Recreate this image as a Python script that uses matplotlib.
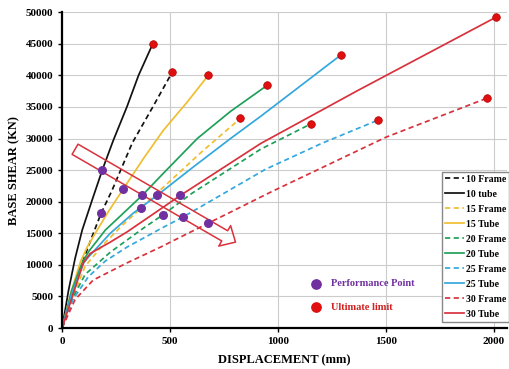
import matplotlib.pyplot as plt
import numpy as np

# pushover curves (displacement mm, base shear kN)
f10_x = [0, 45, 90, 139, 181, 230, 325, 420, 510]
f10_y = [0, 5000, 10000, 14500, 18200, 21700, 29300, 35000, 40500]
t10_x = [0, 30, 60, 93, 139, 186, 237, 300, 354, 420]
t10_y = [0, 6000, 11000, 15500, 20250, 25000, 29700, 35000, 40000, 45000]
f15_x = [0, 50, 107, 190, 280, 366, 469, 650, 826]
f15_y = [0, 5000, 9800, 13200, 16300, 19000, 22300, 28000, 33200]
t15_x = [0, 40, 85, 116, 150, 210, 283, 380, 469, 580, 677]
t15_y = [0, 5500, 10500, 12800, 14800, 18200, 22000, 27000, 31300, 35800, 40000]
f20_x = [0, 45, 107, 223, 376, 466, 600, 919, 1151]
f20_y = [0, 4500, 8500, 12000, 15800, 17900, 21300, 28300, 32300]
t20_x = [0, 45, 95, 125, 200, 278, 371, 469, 626, 780, 951]
t20_y = [0, 6000, 10500, 12200, 15500, 18000, 21000, 24500, 30000, 34300, 38450]
f25_x = [0, 50, 121, 200, 300, 455, 561, 940, 1200, 1462]
f25_y = [0, 4500, 8100, 10600, 12800, 15700, 17600, 25100, 29200, 32900]
t25_x = [0, 45, 100, 121, 223, 330, 440, 600, 780, 919, 1072, 1290]
t25_y = [0, 5500, 10300, 11200, 15000, 18200, 21000, 25300, 30000, 33500, 37500, 43200]
f30_x = [0, 60, 144, 300, 455, 677, 965, 1499, 1968]
f30_y = [0, 4500, 7600, 10300, 12800, 16600, 21500, 30200, 36400]
t30_x = [0, 98, 130, 223, 300, 420, 548, 919, 1369, 2009]
t30_y = [0, 10300, 11800, 13600, 15200, 18000, 21000, 29200, 37600, 49200]

perf_x = [181, 186, 283, 366, 371, 440, 466, 548, 561, 677]
perf_y = [18200, 25000, 22000, 19000, 21000, 21000, 17900, 21100, 17600, 16700]
ult_x = [510, 420, 826, 677, 1151, 951, 1462, 1290, 1968, 2009]
ult_y = [40500, 45000, 33200, 40000, 32300, 38450, 32900, 43200, 36400, 49200]

labels = ['10 Frame', '10 tube', '15 Frame', '15 Tube', '20 Frame', '20 Tube',
          '25 Frame', '25 Tube', '30 Frame', '30 Tube']
curves = [(f10_x, f10_y), (t10_x, t10_y), (f15_x, f15_y), (t15_x, t15_y),
          (f20_x, f20_y), (t20_x, t20_y), (f25_x, f25_y), (t25_x, t25_y),
          (f30_x, f30_y), (t30_x, t30_y)]
colors = ['#111111', '#111111', '#F0BE30', '#F0BE30', '#1FA05A', '#1FA05A',
          '#33A8DC', '#33A8DC', '#D8323C', '#D8323C']

plt.rcParams['font.family'] = ['Liberation Serif', 'DejaVu Serif']
plt.rcParams['font.weight'] = 'bold'

fig = plt.figure(figsize=(5.09, 3.69), dpi=100)
ax = fig.add_axes([0.122, 0.111, 0.874, 0.856])

for i, (cx, cy) in enumerate(curves):
    if i % 2 == 0:
        ax.plot(cx, cy, color=colors[i], lw=1.25, dashes=(3, 2), label=labels[i])
    else:
        ax.plot(cx, cy, color=colors[i], lw=1.25, label=labels[i])

ax.scatter(perf_x, perf_y, s=30, color='#7030A0', zorder=5)
ax.scatter(ult_x, ult_y, s=30, color='#E01010', edgecolor='#B00000', lw=0.5, zorder=5)

# key for the markers
ax.scatter([1175], [7000], s=45, color='#7030A0', zorder=5)
ax.scatter([1178], [3300], s=45, color='#E01010', zorder=5)
ax.text(1245, 7000, 'Performance Point', color='#7030A0', fontsize=7.5,
        fontweight='bold', va='center')
ax.text(1245, 3300, 'Ultimate limit', color='#D02020', fontsize=7.5,
        fontweight='bold', va='center')

# hollow arrow across the performance points
ax.annotate('', xy=(803, 13600), xytext=(60, 28300),
            arrowprops=dict(arrowstyle='simple,head_length=0.9,head_width=1.7,tail_width=0.85',
                            fc='none', ec='#D8323C', lw=1.1, shrinkA=0, shrinkB=0,
                            mutation_scale=10))

ax.set_xlim(0, 2060)
ax.set_ylim(0, 50000)
ax.set_xticks([0, 500, 1000, 1500, 2000])
ax.set_yticks(np.arange(0, 50001, 5000))
ax.grid(True, color='#cccccc', lw=0.8)
ax.set_axisbelow(True)
for s in ['top', 'right']:
    ax.spines[s].set_visible(False)
ax.spines['left'].set_linewidth(1.6)
ax.spines['bottom'].set_linewidth(1.6)
ax.tick_params(labelsize=8, length=3, width=1)
for t in ax.get_xticklabels() + ax.get_yticklabels():
    t.set_fontweight('bold')

ax.set_xlabel('DISPLACEMENT (mm)', fontsize=9, fontweight='bold', labelpad=6)
ax.set_ylabel('BASE SHEAR (KN)', fontsize=9, fontweight='bold', labelpad=4)

leg = ax.legend(loc='upper right', bbox_to_anchor=(1.005, 0.495), borderaxespad=0,
                fontsize=7, handlelength=2.0, handletextpad=0.2, labelspacing=0.62,
                fancybox=False, edgecolor='#888888', framealpha=1, borderpad=0.3)
leg.get_frame().set_linewidth(1.0)

fig.savefig('out.png', dpi=100)
